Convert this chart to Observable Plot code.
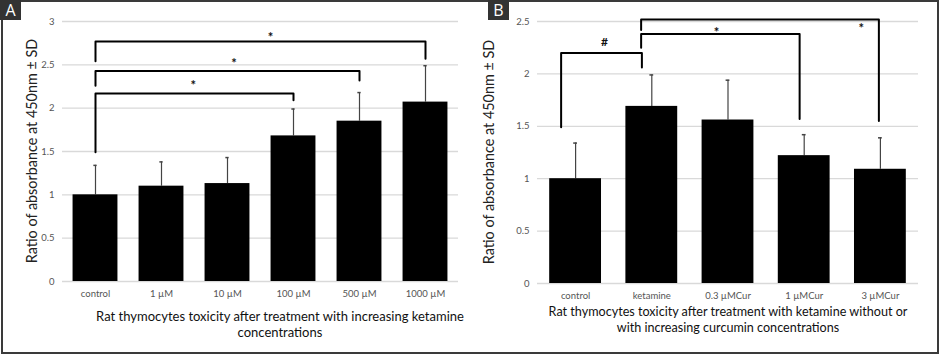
<!DOCTYPE html>
<html><head><meta charset="utf-8">
<script src="https://cdn.jsdelivr.net/npm/d3@7"></script>
<script src="https://cdn.jsdelivr.net/npm/@observablehq/plot@0.6"></script>
<style>
body{margin:0;background:#fff;}
#wrap{position:relative;width:939px;height:355px;overflow:hidden;font-family:Lato,"Open Sans",sans-serif;background:#fff;}
#frame{position:absolute;left:1px;top:0px;width:938px;height:354px;border:2px solid #3a3a3a;box-sizing:border-box;}
.tag{position:absolute;top:0;width:21px;height:20px;background:#333;color:#fff;font-size:16px;line-height:20px;text-align:center;font-family:"Open Sans",sans-serif;}
.panel{position:absolute;top:0;}
.ytitle{position:absolute;white-space:nowrap;font-size:14.4px;color:#222;transform:translate(-50%,-50%) rotate(-90deg);}
.xtitle{position:absolute;text-align:center;line-height:16px;color:#111;}
.panel svg text{fill:#555;}
.panel svg g[aria-label="text"] text{fill:#111;}
</style></head>
<body><div id="wrap">
<div id="frame"></div>
<div class="tag" style="left:0">A</div>
<div class="tag" style="left:488px">B</div>
<div class="panel" id="pa" style="left:0"></div>
<div class="panel" id="pb" style="left:470px"></div>
<div class="ytitle" style="left:31px;top:151px">Ratio of absorbance at 450nm ± SD</div>
<div class="ytitle" style="left:488px;top:152px">Ratio of absorbance at 450nm ± SD</div>
<div class="xtitle" style="left:80px;top:308px;width:400px;font-size:13px">Rat thymocytes toxicity after treatment with increasing ketamine<br>concentrations</div>
<div class="xtitle" style="left:528px;top:304px;width:400px;font-size:12.6px">Rat thymocytes toxicity after treatment with ketamine without or<br>with increasing curcumin concentrations</div>
</div>
<script>
// Panel A data
const catsA = ["control", "1 µM", "10 µM", "100 µM", "500 µM", "1000 µM"];
const meanA = [1.0, 1.10, 1.13, 1.68, 1.85, 2.07];
const sdA = [0.34, 0.28, 0.30, 0.31, 0.33, 0.42];
const yTicksA = [0, 0.5, 1, 1.5, 2, 2.5, 3];
// brackets A: from index, to index, top level, left foot, right foot, mark x, mark y
const brFromA = [0, 0, 0];
const brToA = [3, 4, 5];
const brTopA = [2.17, 2.43, 2.77];
const brLeftFootA = [1.49, 2.26, 2.54];
const brRightFootA = [2.09, 2.32, 2.57];
const markXA = [1.48, 2.1, 2.65];
const markYA = [2.30, 2.56, 2.86];
const markTextA = ["*", "*", "*"];

// Panel B data
const catsB = ["control", "ketamine", "0.3 µMCur", "1 µMCur", "3 µMCur"];
const meanB = [1.0, 1.69, 1.56, 1.22, 1.09];
const sdB = [0.34, 0.30, 0.38, 0.20, 0.30];
const yTicksB = [0, 0.5, 1, 1.5, 2, 2.5];
const brFromB = [-0.19, 0.86, 0.86];
const brToB = [0.87, 2.94, 3.98];
const brTopB = [2.2, 2.38, 2.52];
const brLeftFootB = [1.49, 2.25, 2.42];
const brRightFootB = [2.06, 1.57, 1.55];
const markXB = [0.38, 1.85, 3.75];
const markYB = [2.30, 2.43, 2.47];
const markTextB = ["#", "*", "*"];

function panel({cats, mean, sd, yTicks, brFrom, brTo, brTop, brLeftFoot, brRightFoot, markX, markY, markText,
                width, height, mL, mR, mT, mB}) {
  const idx = d3.range(cats.length);
  const half = 0.34;
  const brackets = brFrom.flatMap((f, k) => [
    {k, x: f, y: brLeftFoot[k]},
    {k, x: f, y: brTop[k]},
    {k, x: brTo[k], y: brTop[k]},
    {k, x: brTo[k], y: brRightFoot[k]}
  ]);
  const marks = markX.map((x, k) => ({x, y: markY[k], t: markText[k]}));
  return Plot.plot({
    width, height, marginLeft: mL, marginRight: mR, marginTop: mT, marginBottom: mB,
    style: {fontFamily: "Lato, 'Open Sans', sans-serif", background: "transparent", overflow: "visible"},
    x: {domain: [-0.5, cats.length - 0.5]},
    y: {domain: [0, yTicks[yTicks.length - 1]]},
    marks: [
      Plot.gridY(yTicks, {stroke: "#d9d9d9", strokeOpacity: 1, strokeWidth: 1.3}),
      Plot.axisY(yTicks, {tickSize: 0, tickPadding: 8, fontSize: 9.5, label: null, color: "#555", tickFormat: d => String(d)}),
      Plot.axisX(idx, {tickSize: 0, tickPadding: 9, fontSize: 9.5, tickFormat: i => cats[i], label: null, color: "#555"}),
      Plot.ruleX(idx, {x: i => i, y1: i => mean[i], y2: i => mean[i] + sd[i], stroke: "#444", strokeWidth: 1.2}),
      Plot.ruleY(idx, {y: i => mean[i] + sd[i], x1: i => i - 0.025, x2: i => i + 0.025, stroke: "#444", strokeWidth: 1.5}),
      Plot.rectY(idx, {x1: i => i - half, x2: i => i + half, y1: 0, y2: i => mean[i], fill: "#000"}),
      Plot.line(brackets, {x: "x", y: "y", z: "k", stroke: "#000", strokeWidth: 2}),
      Plot.text(marks.filter(m => m.t === "*"), {x: "x", y: "y", text: "t", dy: 4, fontSize: 13, fontWeight: "bold", fill: "#111"}),
      Plot.text(marks.filter(m => m.t !== "*"), {x: "x", y: "y", text: "t", fontSize: 12, fontWeight: "bold", fill: "#111"})
    ]
  });
}

document.getElementById("pa").append(panel({
  cats: catsA, mean: meanA, sd: sdA, yTicks: yTicksA,
  brFrom: brFromA, brTo: brToA, brTop: brTopA, brLeftFoot: brLeftFootA, brRightFoot: brRightFootA,
  markX: markXA, markY: markYA, markText: markTextA,
  width: 470, height: 305, mL: 62, mR: 12, mT: 21, mB: 24
}));
document.getElementById("pb").append(panel({
  cats: catsB, mean: meanB, sd: sdB, yTicks: yTicksB,
  brFrom: brFromB, brTo: brToB, brTop: brTopB, brLeftFoot: brLeftFootB, brRightFoot: brRightFootB,
  markX: markXB, markY: markYB, markText: markTextB,
  width: 469, height: 310, mL: 67, mR: 21, mT: 21, mB: 27
}));
</script>
</body></html>
